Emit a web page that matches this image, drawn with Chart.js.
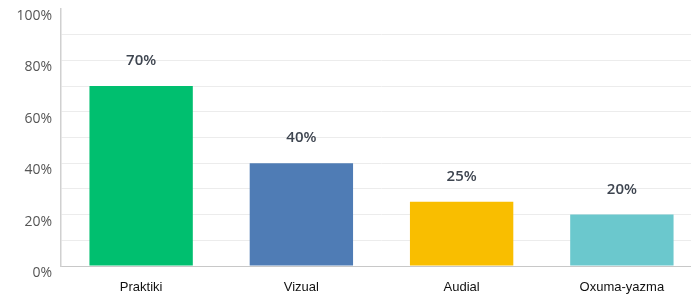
<!DOCTYPE html>
<html>
<head>
<meta charset="utf-8">
<script src="https://cdn.jsdelivr.net/npm/chart.js@4.4.1/dist/chart.umd.min.js"></script>
<style>
  html, body { margin: 0; padding: 0; background: #fff; overflow: hidden; }
  #wrap { width: 702px; height: 298px; position: relative; }
</style>
</head>
<body>
<div id="wrap"><canvas id="chart" width="702" height="298"></canvas></div>
<script>
// ── Data
const categories = ['Praktiki', 'Vizual', 'Audial', 'Oxuma-yazma'];
const values     = [70, 40, 25, 20];
const barColors  = ['#00bf6f', '#4f7cb5', '#f9be00', '#6bc8cd'];
const yTicks     = [0, 20, 40, 60, 80, 100];

// ── Draws the "70%" style labels above each bar
const valueLabels = {
  id: 'valueLabels',
  afterDatasetsDraw(chart) {
    const ctx = chart.ctx;
    const meta = chart.getDatasetMeta(0);
    ctx.save();
    ctx.font = '600 15px "Open Sans"';
    ctx.fillStyle = '#3e4550';
    ctx.textAlign = 'center';
    ctx.textBaseline = 'middle';
    meta.data.forEach((bar, i) => {
      ctx.fillText(values[i] + '%', bar.x, bar.y - 25);
    });
    ctx.restore();
  }
};

new Chart(document.getElementById('chart'), {
  type: 'bar',
  data: {
    labels: categories,
    datasets: [{
      data: values,
      backgroundColor: barColors,
      borderWidth: 0,
      categoryPercentage: 1,
      barPercentage: 0.645,
    }],
  },
  options: {
    responsive: false,
    animation: false,
    layout: { padding: { top: 0, left: 0, right: 0, bottom: 0 } },
    plugins: {
      legend: { display: false },
      tooltip: { enabled: false },
    },
    scales: {
      x: {
        grid: { display: false, drawTicks: false },
        border: { color: '#c8c8c8', width: 1 },
        ticks: {
          color: '#111',
          padding: 14,
          font: { family: '"Liberation Sans"', size: 13 },
        },
        afterFit: s => { s.height = 32; },
      },
      y: {
        min: 0,
        max: 100,
        grid: {
          drawTicks: false,
          // no line at the very top, light lines everywhere else
          color: c => (c.tick && c.tick.value === 100) ? 'rgba(0,0,0,0)' : '#ececec',
        },
        border: { color: '#d0d0d0', width: 1.5 },
        ticks: {
          stepSize: 10,
          autoSkip: false,
          padding: 9,
          labelOffset: 7,
          color: '#555',
          font: { family: '"Open Sans"', size: 14 },
          callback: v => yTicks.includes(v) ? v + '%' : '',
        },
        afterFit: s => { s.width = 61; s.paddingTop = 9; },
      },
    },
  },
  plugins: [valueLabels],
});
</script>
</body>
</html>
